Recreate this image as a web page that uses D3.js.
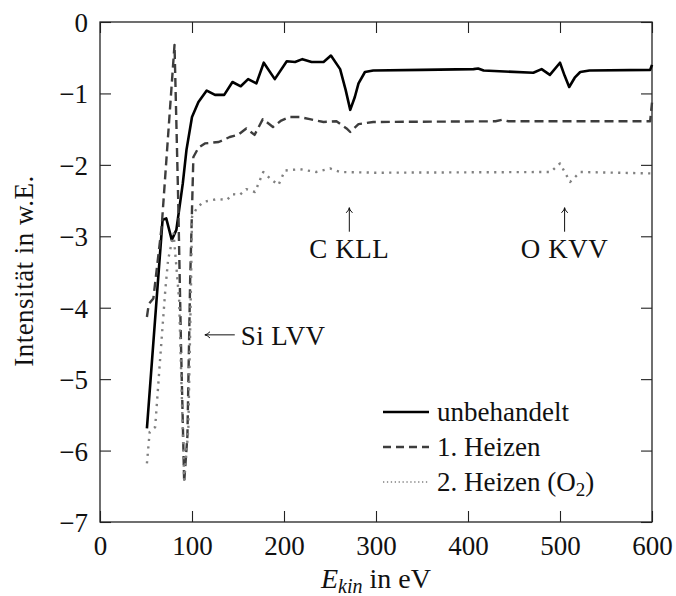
<!DOCTYPE html>
<html>
<head>
<meta charset="utf-8">
<script src="https://cdn.jsdelivr.net/npm/d3@7"></script>
<style>
	body { margin: 0; background: #fff; }
	svg text { font-family: "Liberation Serif", "DejaVu Serif", serif; fill: #111; }
</style>
</head>
<body>
<div id="chart"></div>
<script>
// energies (eV) and intensities
const e_unbehandelt = [51, 68, 72, 78, 83, 90, 94, 100, 107, 116, 125, 135, 144, 153, 161, 170, 178, 190, 203, 212, 220, 230, 243, 251, 261, 267, 272, 277, 281, 288, 297, 350, 406, 411, 417, 471, 480, 489, 500, 505, 510, 516, 522, 532, 598, 600];
const v_unbehandelt = [-5.69, -2.77, -2.75, -3.05, -2.91, -2.26, -1.79, -1.33, -1.12, -0.96, -1.02, -1.02, -0.84, -0.90, -0.80, -0.86, -0.57, -0.80, -0.55, -0.56, -0.52, -0.56, -0.56, -0.47, -0.66, -0.95, -1.23, -1.05, -0.86, -0.70, -0.68, -0.67, -0.66, -0.65, -0.68, -0.71, -0.66, -0.74, -0.57, -0.75, -0.91, -0.78, -0.70, -0.68, -0.67, -0.60];

const e_heizen1 = [51, 53, 58, 67, 81, 85, 88, 91.5, 95, 98, 101.5, 107, 114, 129, 141, 150, 159, 168, 177, 188, 197, 206, 217, 228, 243, 257, 268, 272, 281, 297, 430, 437, 444, 598, 600];
const v_heizen1 = [-4.13, -3.95, -3.87, -2.87, -0.32, -2.49, -4.5, -6.44, -5.8, -3.61, -1.89, -1.76, -1.70, -1.68, -1.61, -1.58, -1.49, -1.58, -1.36, -1.47, -1.38, -1.33, -1.33, -1.36, -1.40, -1.39, -1.49, -1.54, -1.43, -1.40, -1.39, -1.37, -1.39, -1.39, -1.13];

const e_heizen2 = [51, 54, 60, 65, 71, 74, 80, 86, 91.5, 96, 99, 100, 105, 112, 127, 138, 144, 152, 159, 168.5, 177.5, 186.6, 194, 201, 217, 235, 250, 261, 300, 490, 500, 511, 522, 600];
const v_heizen2 = [-6.18, -5.74, -5.67, -4.78, -3.75, -3.33, -2.96, -3.89, -6.41, -5.7, -3.61, -2.73, -2.61, -2.52, -2.48, -2.49, -2.41, -2.42, -2.34, -2.38, -2.10, -2.21, -2.28, -2.08, -2.06, -2.10, -2.05, -2.10, -2.11, -2.10, -1.98, -2.24, -2.10, -2.12];

const series_names = ["unbehandelt", "1. Heizen", "2. Heizen (O2)"];
const x_ticks = [0, 100, 200, 300, 400, 500, 600];
const y_ticks = [0, -1, -2, -3, -4, -5, -6, -7];

// peak labels: [energy, intensity at arrow tip, text]
const peaks = [[271, -2.60, "C KLL"], [505, -2.60, "O KVV"]];

const margin = {top: 22, right: 24, bottom: 74, left: 100};
const W = 676, H = 596;
const width = W - margin.left - margin.right;
const height = H - margin.top - margin.bottom;
const fs = "27px";

const svg = d3.select("#chart").append("svg")
			.attr("width", W)
			.attr("height", H);
const g = svg.append("g")
			.attr("transform", `translate(${margin.left},${margin.top})`);

const x = d3.scaleLinear().domain([0, 600]).range([0, width]);
const y = d3.scaleLinear().domain([-7, 0]).range([height, 0]);

const tick_len = 11;
const minus = (d) => d < 0 ? "\u2212" + Math.abs(d) : String(d);

// axes, ticks pointing inwards on every side
const styleAxis = (sel) => {
	sel.select(".domain").remove();
	sel.selectAll(".tick line").attr("stroke", "#222").attr("stroke-width", 1.1);
	sel.selectAll(".tick text").style("font-size", fs).attr("fill", "#111");
};
g.append("g")
	.attr("transform", `translate(0,${height})`)
	.call(d3.axisBottom(x).tickValues(x_ticks).tickSizeInner(-tick_len).tickSizeOuter(0).tickPadding(10))
	.call(styleAxis)
	.selectAll(".tick text").attr("dy", "0.85em");
g.append("g")
	.call(d3.axisTop(x).tickValues(x_ticks).tickSizeInner(-tick_len).tickSizeOuter(0).tickFormat(""))
	.call(styleAxis);
g.append("g")
	.call(d3.axisLeft(y).tickValues(y_ticks).tickSizeInner(-tick_len).tickSizeOuter(0).tickPadding(12).tickFormat(minus))
	.call(styleAxis)
	.selectAll(".tick text").attr("dy", "0.35em");
g.append("g")
	.attr("transform", `translate(${width},0)`)
	.call(d3.axisRight(y).tickValues(y_ticks).tickSizeInner(-tick_len).tickSizeOuter(0).tickFormat(""))
	.call(styleAxis);

// frame
g.append("rect")
	.attr("width", width)
	.attr("height", height)
	.attr("fill", "none")
	.attr("stroke", "#222")
	.attr("stroke-width", 1.3);

const styles = [
	{color: "#000", dash: null, w: 2.6},
	{color: "#3d3d3d", dash: "9,5", w: 2.4},
	{color: "#808080", dash: "2.2,5.3", w: 2.4}
];
const series = [
	d3.zip(e_unbehandelt, v_unbehandelt),
	d3.zip(e_heizen1, v_heizen1),
	d3.zip(e_heizen2, v_heizen2)
];

const line = d3.line().x(d => x(d[0])).y(d => y(d[1]));

const plot = g.append("g");
series.forEach((s, i) => {
	plot.append("path")
		.datum(s)
		.attr("d", line)
		.attr("fill", "none")
		.attr("stroke", styles[i].color)
		.attr("stroke-width", styles[i].w)
		.attr("stroke-dasharray", styles[i].dash)
		.attr("stroke-linejoin", "round");
});

// arrow helper (thin LaTeX-like arrow)
const arrow = (x1, y1, x2, y2) => {
	const a = Math.atan2(y2 - y1, x2 - x1);
	const hl = 6, hw = 0.55;
	g.append("line")
		.attr("x1", x1).attr("y1", y1).attr("x2", x2).attr("y2", y2)
		.attr("stroke", "#111").attr("stroke-width", 1);
	const p1 = [x2 - hl * Math.cos(a - hw), y2 - hl * Math.sin(a - hw)];
	const p2 = [x2 - hl * Math.cos(a + hw), y2 - hl * Math.sin(a + hw)];
	g.append("path")
		.attr("d", `M${p1[0]},${p1[1]} Q${x2 - 2 * Math.cos(a)},${y2 - 2 * Math.sin(a)} ${x2},${y2} Q${x2 - 2 * Math.cos(a)},${y2 - 2 * Math.sin(a)} ${p2[0]},${p2[1]}`)
		.attr("fill", "none").attr("stroke", "#111").attr("stroke-width", 1);
};

peaks.forEach(p => {
	arrow(x(p[0]), y(p[1]) + 24, x(p[0]), y(p[1]));
	g.append("text")
		.attr("x", x(p[0]))
		.attr("y", y(p[1]) + 50)
		.attr("text-anchor", "middle")
		.style("font-size", fs)
		.style("letter-spacing", "0.6px")
		.text(p[2]);
});

// Si LVV
arrow(x(146.5), y(-4.38), x(114), y(-4.38));
g.append("text")
	.attr("x", x(153))
	.attr("y", y(-4.38) + 10)
	.style("font-size", fs)
	.style("letter-spacing", "0.4px")
	.text("Si LVV");

// legend
const legend = g.append("g").attr("transform", `translate(${383 - margin.left},${412 - margin.top})`);
series_names.forEach((name, i) => {
	const row = legend.append("g").attr("transform", `translate(0,${i * 35})`);
	row.append("line")
		.attr("x1", 0).attr("x2", 46)
		.attr("stroke", styles[i].color)
		.attr("stroke-width", i == 2 ? 1.3 : styles[i].w)
		.attr("stroke-dasharray", i == 2 ? "1.3,2.6" : (i == 1 ? "8,5" : null));
	const t = row.append("text")
		.attr("x", 54)
		.attr("dy", "0.35em")
		.style("font-size", fs);
	if (name.endsWith("(O2)")) {
		t.append("tspan").text("2. Heizen (O");
		t.append("tspan").attr("baseline-shift", "-25%").style("font-size", "19px").text("2");
		t.append("tspan").text(")");
	} else {
		t.text(name);
	}
});

// axis titles
const xt = svg.append("text")
	.attr("x", margin.left + width / 2)
	.attr("y", 588)
	.attr("text-anchor", "middle")
	.style("font-size", "28px");
xt.append("tspan").style("font-style", "italic").text("E");
xt.append("tspan").style("font-style", "italic").style("font-size", "20px").attr("dy", 5).text("kin");
xt.append("tspan").attr("dy", -5).text(" in eV");

svg.append("text")
	.attr("transform", `translate(33,${margin.top + height / 2 - 1}) rotate(-90)`)
	.attr("text-anchor", "middle")
	.style("font-size", fs)
	.style("letter-spacing", "0.5px")
	.text("Intensität in w.E.");
</script>
</body>
</html>
